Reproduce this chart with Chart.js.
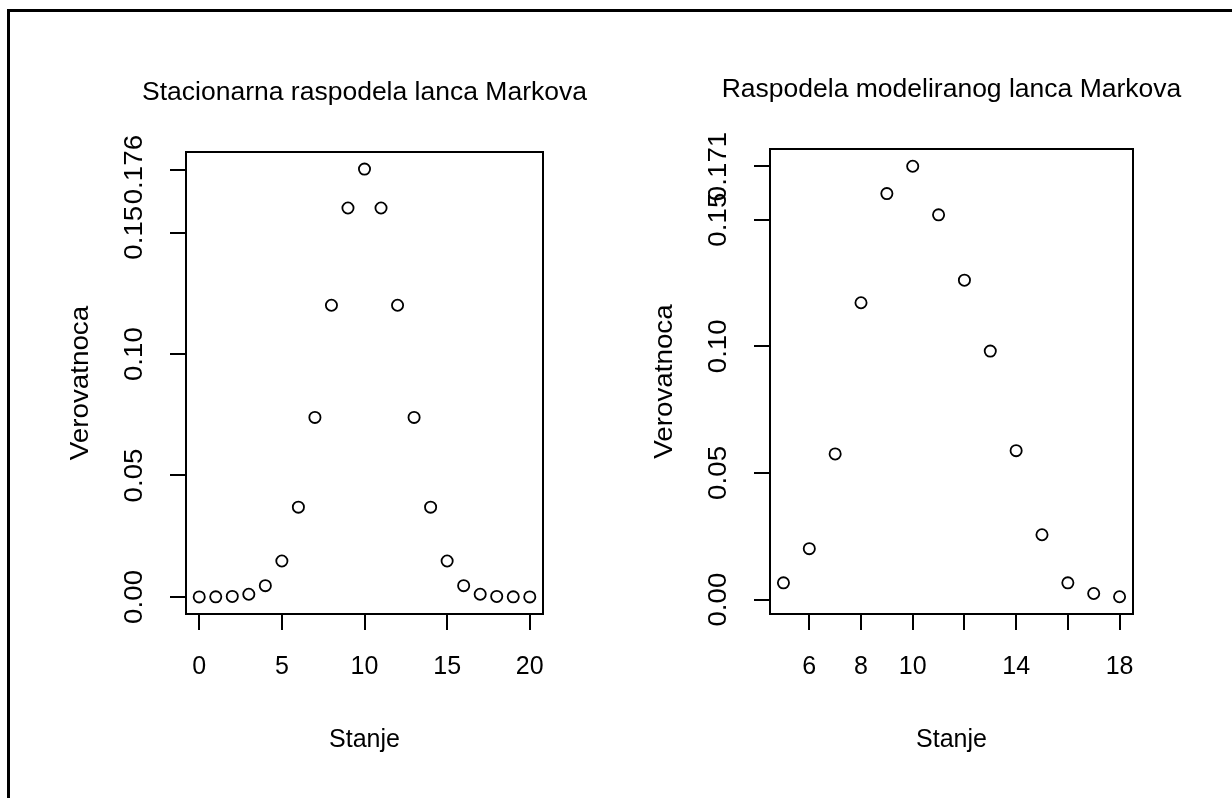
<!DOCTYPE html>
<html>
<head>
<meta charset="utf-8">
<script src="https://cdn.jsdelivr.net/npm/chart.js@4.4.1/dist/chart.umd.min.js"></script>
<style>
  html, body { margin: 0; padding: 0; background: #fff; }
  #page { position: relative; width: 1232px; height: 798px; overflow: hidden; }
  #frame { position: absolute; left: 7px; top: 9px; right: -20px; bottom: -20px;
           border-left: 3px solid #000; border-top: 3px solid #000; }
  canvas { position: absolute; top: 0; }
</style>
</head>
<body>
<div id="page">
  <div id="frame"></div>
  <canvas id="left" width="616" height="798" style="left:0"></canvas>
  <canvas id="right" width="616" height="798" style="left:616px"></canvas>
</div>
<script>
// left panel: stacionarna raspodela
const stanjaStac = [0, 1, 2, 3, 4, 5, 6, 7, 8, 9, 10, 11, 12, 13, 14, 15, 16, 17, 18, 19, 20];
const verStac = [0.000001, 0.000019, 0.000181, 0.001087, 0.004621, 0.014786, 0.036964,
                 0.073929, 0.120134, 0.160179, 0.176197, 0.160179, 0.120134, 0.073929,
                 0.036964, 0.014786, 0.004621, 0.001087, 0.000181, 0.000019, 0.000001];
const xTicksStac = [0, 5, 10, 15, 20];
const xLabelsStac = ['0', '5', '10', '15', '20'];
const yTicksStac = [0, 0.05, 0.10, 0.15, 0.176];
const yLabelsStac = ['0.00', '0.05', '0.10', '0.15', '0.176'];

// right panel: modelirani lanac
const stanjaMod = [5, 6, 7, 8, 9, 10, 11, 12, 13, 14, 15, 16, 17, 18];
const verMod = [0.0066, 0.0201, 0.0575, 0.1172, 0.1603, 0.1711, 0.1519,
                0.1261, 0.0981, 0.0588, 0.0256, 0.0066, 0.0024, 0.0011];
const xTicksMod = [6, 8, 10, 12, 14, 16, 18];
const xLabelsMod = ['6', '8', '10', '', '14', '', '18'];
const yTicksMod = [0, 0.05, 0.10, 0.15, 0.171];
const yLabelsMod = ['0.00', '0.05', '0.10', '0.15', '0.171'];

const FONT = "'Liberation Sans', Arial, Helvetica, sans-serif";

// vertical text, a bit stretched along its length like the original
function upText(ctx, txt, x, y) {
  ctx.save();
  ctx.translate(x, y);
  ctx.rotate(-Math.PI / 2);
  ctx.scale(1.11, 1);
  ctx.fillText(txt, 0, 0);
  ctx.restore();
}

// R-like text: title, axis titles, rotated y tick labels, box
const rText = {
  id: 'rText',
  afterDraw(chart, args, o) {
    const ctx = chart.ctx;
    const a = chart.chartArea;
    const ys = chart.scales.y;
    const cx = (a.left + a.right) / 2;
    ctx.save();
    ctx.strokeStyle = '#000';
    ctx.lineWidth = 2;
    ctx.strokeRect(a.left, a.top, a.right - a.left, a.bottom - a.top);

    ctx.fillStyle = '#000';
    ctx.textAlign = 'center';
    ctx.textBaseline = 'alphabetic';
    ctx.font = '26.5px ' + FONT;
    ctx.fillText(o.title, cx, a.top - 52);
    ctx.font = '25px ' + FONT;
    ctx.fillText('Stanje', cx, a.bottom + 133);

    o.yTicks.forEach((v, i) => upText(ctx, o.yLabels[i], a.left - 44, ys.getPixelForValue(v)));
    upText(ctx, 'Verovatnoca', a.left - 98, (a.top + a.bottom) / 2);
    ctx.restore();
  }
};

function makeChart(id, xs, ys, p) {
  const axisGrid = { drawOnChartArea: false, drawTicks: true, tickLength: 16, color: '#000', lineWidth: 2 };
  return new Chart(document.getElementById(id), {
    type: 'scatter',
    data: {
      datasets: [{
        data: xs.map((x, i) => ({ x: x, y: ys[i] })),
        pointStyle: 'circle',
        pointRadius: 5.6,
        pointBorderWidth: 1.8,
        pointBorderColor: '#000',
        pointBackgroundColor: 'rgba(0,0,0,0)'
      }]
    },
    options: {
      responsive: false,
      animation: false,
      layout: { padding: { top: p.top, right: p.right, left: 0, bottom: 0 } },
      plugins: {
        legend: { display: false },
        tooltip: { enabled: false },
        rText: { title: p.title, yTicks: p.yTicks, yLabels: p.yLabels }
      },
      scales: {
        x: {
          type: 'linear',
          min: p.xMin, max: p.xMax,
          grid: axisGrid,
          border: { display: false },
          afterBuildTicks: s => { s.ticks = p.xTicks.map(v => ({ value: v })); },
          afterFit: s => { s.height = 184; },
          ticks: {
            autoSkip: false,
            padding: 22,
            color: '#000',
            font: { family: FONT, size: 25 },
            callback: v => p.xLabels[p.xTicks.indexOf(v)]
          }
        },
        y: {
          type: 'linear',
          min: p.yMin, max: p.yMax,
          grid: axisGrid,
          border: { display: false },
          afterBuildTicks: s => { s.ticks = p.yTicks.map(v => ({ value: v })); },
          afterFit: s => { s.width = p.left; },
          ticks: { display: false }
        }
      }
    },
    plugins: [rText]
  });
}

makeChart('left', stanjaStac, verStac, {
  title: 'Stacionarna raspodela lanca Markova',
  top: 152, right: 73, left: 186,
  xMin: -0.8, xMax: 20.8, yMin: -0.00705, yMax: 0.18325,
  xTicks: xTicksStac, xLabels: xLabelsStac, yTicks: yTicksStac, yLabels: yLabelsStac
});

makeChart('right', stanjaMod, verMod, {
  title: 'Raspodela modeliranog lanca Markova',
  top: 149, right: 99, left: 154,
  xMin: 4.48, xMax: 18.52, yMin: -0.0057, yMax: 0.1779,
  xTicks: xTicksMod, xLabels: xLabelsMod, yTicks: yTicksMod, yLabels: yLabelsMod
});
</script>
</body>
</html>
